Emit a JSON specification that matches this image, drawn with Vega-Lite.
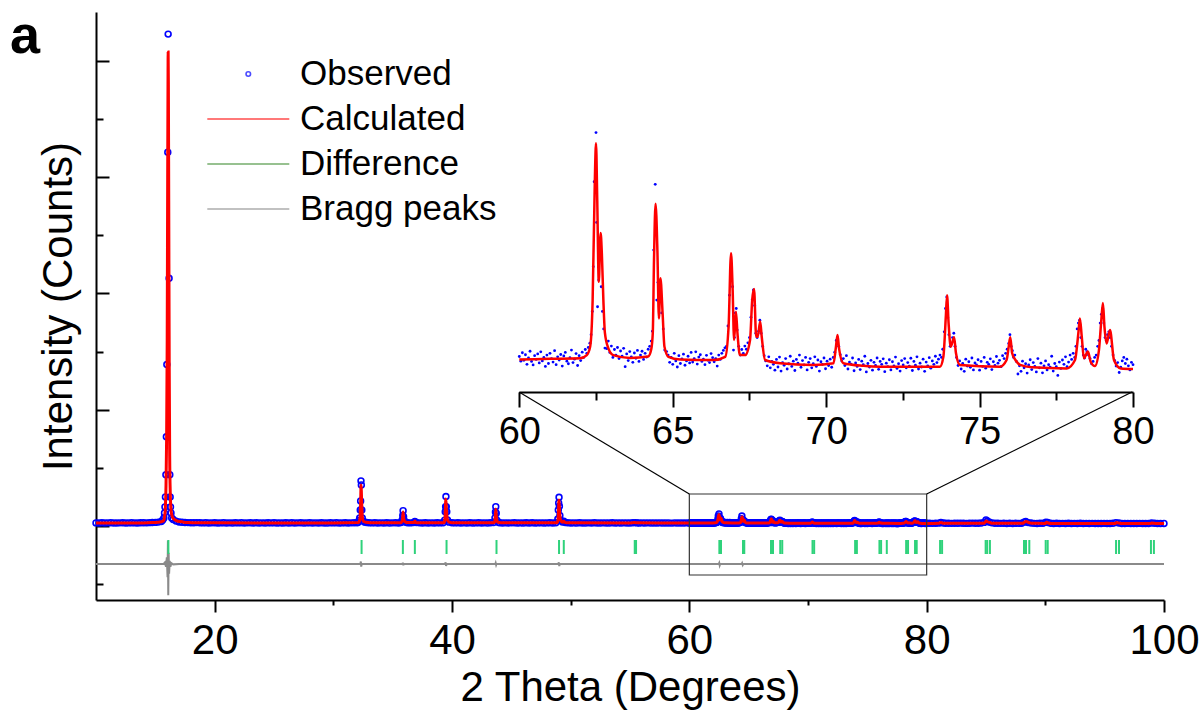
{
"$schema": "https://vega.github.io/schema/vega-lite/v6.json",
"width": 1068,
"height": 588,
"autosize": {"type": "none"},
"padding": {"left": 96, "top": 12, "right": 37, "bottom": 111},
"background": "white",
"config": {
  "view": {"stroke": null},
  "font": "Liberation Sans",
  "axis": {"domainColor": "#000", "tickColor": "#000", "domainWidth": 2, "tickWidth": 2, "labelFont": "Liberation Sans", "titleFont": "Liberation Sans", "labelColor": "#000", "titleColor": "#000", "grid": false, "titleFontWeight": "normal"}
},
"title": {"text": "a", "anchor": "start", "frame": "group", "fontSize": 54, "fontWeight": "bold", "font": "Liberation Sans", "color": "#000", "offset": 0, "dx": -86, "dy": 95, "baseline": "alphabetic"},
"datasets": {
  "obs": [
    {"x":10,"y":268},{"x":10.25,"y":262},{"x":10.5,"y":275},{"x":10.75,"y":259},{"x":11,"y":271},{"x":11.25,"y":280},{"x":11.5,"y":264},{"x":11.75,"y":257},{"x":12,"y":270},{"x":12.25,"y":276},{"x":12.5,"y":261},{"x":12.75,"y":268},{"x":13,"y":283},{"x":13.25,"y":266},{"x":13.5,"y":259},{"x":13.75,"y":274},{"x":14,"y":281},{"x":14.25,"y":270},{"x":14.5,"y":288},{"x":14.75,"y":296},{"x":15,"y":310},{"x":15.25,"y":335},{"x":15.5,"y":392},{"x":15.62,"y":520},
    {"x":15.72,"y":690},{"x":15.77,"y":1120},{"x":15.81,"y":1640},{"x":15.85,"y":2500},{"x":15.89,"y":4400},{"x":15.93,"y":7670},{"x":15.97,"y":13880},{"x":16.05,"y":32150},{"x":16.08,"y":42300},{"x":16.16,"y":21300},{"x":16.22,"y":4400},{"x":16.25,"y":2500},{"x":16.28,"y":1640},{"x":16.32,"y":1120},{"x":16.38,"y":690},{"x":16.5,"y":560},{"x":16.75,"y":420},{"x":17,"y":350},{"x":17.25,"y":318},{"x":17.5,"y":300},{"x":17.75,"y":292},
    {"x":18,"y":285},{"x":18.25,"y":279},{"x":18.5,"y":290},{"x":18.75,"y":272},{"x":19,"y":266},{"x":19.25,"y":281},{"x":19.5,"y":263},{"x":19.75,"y":270},{"x":20,"y":277},{"x":20.25,"y":259},{"x":20.5,"y":268},{"x":20.75,"y":284},{"x":21,"y":262},{"x":21.25,"y":271},{"x":21.5,"y":256},{"x":21.75,"y":275},{"x":22,"y":267},{"x":22.25,"y":281},{"x":22.5,"y":260},{"x":22.75,"y":269},{"x":23,"y":274},{"x":23.25,"y":258},{"x":23.5,"y":279},{"x":23.75,"y":263},{"x":24,"y":270},{"x":24.25,"y":255},{"x":24.5,"y":276},{"x":24.75,"y":266},{"x":25,"y":282},{"x":25.25,"y":261},{"x":25.5,"y":268},{"x":25.75,"y":257},{"x":26,"y":273},{"x":26.25,"y":265},{"x":26.5,"y":280},{"x":26.75,"y":259},{"x":27,"y":270},{"x":27.25,"y":276},{"x":27.5,"y":254},{"x":27.75,"y":267},{"x":28,"y":279},{"x":28.25,"y":262},{"x":28.5,"y":271},{"x":28.75,"y":258},{"x":29,"y":275},{"x":29.25,"y":264},{"x":29.5,"y":253},{"x":29.75,"y":272},{"x":30,"y":266},{"x":30.25,"y":280},{"x":30.5,"y":259},{"x":30.75,"y":268},{"x":31,"y":274},{"x":31.25,"y":257},{"x":31.5,"y":270},{"x":31.75,"y":282},{"x":32,"y":276},
    {"x":32.1,"y":320},{"x":32.17,"y":480},{"x":32.22,"y":690},{"x":32.27,"y":1380},{"x":32.3,"y":2160},{"x":32.33,"y":3880},{"x":32.36,"y":3530},{"x":32.4,"y":1380},{"x":32.44,"y":690},{"x":32.52,"y":420},{"x":32.65,"y":330},{"x":32.8,"y":300},
    {"x":33,"y":281},{"x":33.25,"y":266},{"x":33.5,"y":274},{"x":33.75,"y":259},{"x":34,"y":270},{"x":34.25,"y":263},{"x":34.5,"y":278},{"x":34.75,"y":255},{"x":35,"y":269},{"x":35.25,"y":276},{"x":35.5,"y":262},{"x":35.7,"y":300},{"x":35.8,"y":520},{"x":35.85,"y":900},{"x":35.88,"y":1320},{"x":35.92,"y":800},{"x":35.98,"y":450},{"x":36.1,"y":320},{"x":36.25,"y":281},{"x":36.5,"y":267},{"x":36.75,"y":290},{"x":36.87,"y":400},{"x":37,"y":300},{"x":37.25,"y":271},{"x":37.5,"y":260},{"x":37.75,"y":276},{"x":38,"y":264},{"x":38.25,"y":270},{"x":38.5,"y":257},{"x":38.75,"y":279},{"x":39,"y":266},{"x":39.25,"y":283},
    {"x":39.38,"y":500},{"x":39.43,"y":1230},{"x":39.46,"y":1660},{"x":39.49,"y":2530},{"x":39.52,"y":1660},{"x":39.56,"y":1230},{"x":39.62,"y":520},{"x":39.75,"y":330},
    {"x":40,"y":284},{"x":40.25,"y":266},{"x":40.5,"y":273},{"x":40.75,"y":258},{"x":41,"y":270},{"x":41.25,"y":262},{"x":41.5,"y":277},{"x":41.75,"y":256},{"x":42,"y":268},{"x":42.25,"y":274},{"x":42.5,"y":261},{"x":42.75,"y":270},{"x":43,"y":255},{"x":43.25,"y":275},{"x":43.5,"y":290},{"x":43.62,"y":700},{"x":43.66,"y":1200},{"x":43.69,"y":1660},{"x":43.73,"y":1100},{"x":43.78,"y":500},{"x":43.9,"y":320},
    {"x":44,"y":278},{"x":44.25,"y":263},{"x":44.5,"y":271},{"x":44.75,"y":257},{"x":45,"y":269},{"x":45.25,"y":276},{"x":45.5,"y":260},{"x":45.75,"y":267},{"x":46,"y":254},{"x":46.25,"y":273},{"x":46.5,"y":262},{"x":46.75,"y":279},{"x":47,"y":258},{"x":47.25,"y":266},{"x":47.5,"y":271},{"x":47.75,"y":255},{"x":48,"y":268},{"x":48.25,"y":274},{"x":48.5,"y":259},{"x":48.75,"y":280},
    {"x":48.92,"y":600},{"x":48.96,"y":1380},{"x":48.99,"y":1980},{"x":49.02,"y":2470},{"x":49.05,"y":1700},{"x":49.09,"y":900},{"x":49.15,"y":500},{"x":49.3,"y":340},{"x":49.42,"y":410},{"x":49.55,"y":300},{"x":49.75,"y":272},
    {"x":50,"y":260},{"x":50.25,"y":268},{"x":50.5,"y":255},{"x":50.75,"y":272},{"x":51,"y":263},{"x":51.25,"y":250},{"x":51.5,"y":269},{"x":51.75,"y":258},{"x":52,"y":274},{"x":52.25,"y":261},{"x":52.5,"y":252},{"x":52.75,"y":270},{"x":53,"y":264},{"x":53.25,"y":256},{"x":53.5,"y":273},{"x":53.75,"y":259},{"x":54,"y":266},{"x":54.25,"y":251},{"x":54.5,"y":270},{"x":54.75,"y":262},{"x":55,"y":257},{"x":55.25,"y":275},{"x":55.45,"y":290},{"x":55.6,"y":268},{"x":55.75,"y":254},{"x":56,"y":266},{"x":56.25,"y":259},{"x":56.5,"y":271},{"x":56.75,"y":250},{"x":57,"y":263},{"x":57.25,"y":257},{"x":57.5,"y":268},{"x":57.75,"y":252},{"x":58,"y":265},{"x":58.25,"y":260},{"x":58.5,"y":249},{"x":58.75,"y":268},{"x":59,"y":256},{"x":59.25,"y":262},{"x":59.5,"y":251},{"x":59.75,"y":266},
    {"x":60,"y":265},{"x":60.05,"y":249},{"x":60.1,"y":278},{"x":60.15,"y":252},{"x":60.2,"y":271},{"x":60.25,"y":238},{"x":60.3,"y":260},{"x":60.35,"y":283},{"x":60.4,"y":248},{"x":60.45,"y":236},{"x":60.5,"y":268},{"x":60.55,"y":255},{"x":60.6,"y":274},{"x":60.65,"y":243},{"x":60.7,"y":281},{"x":60.75,"y":250},{"x":60.8,"y":262},{"x":60.85,"y":231},{"x":60.9,"y":270},{"x":60.95,"y":241},
    {"x":61,"y":276},{"x":61.05,"y":258},{"x":61.1,"y":246},{"x":61.15,"y":285},{"x":61.2,"y":237},{"x":61.25,"y":264},{"x":61.3,"y":253},{"x":61.35,"y":272},{"x":61.4,"y":232},{"x":61.45,"y":267},{"x":61.5,"y":279},{"x":61.55,"y":249},{"x":61.6,"y":240},{"x":61.65,"y":261},{"x":61.7,"y":287},{"x":61.75,"y":244},{"x":61.8,"y":256},{"x":61.85,"y":275},{"x":61.9,"y":234},{"x":61.95,"y":268},
    {"x":62,"y":251},{"x":62.05,"y":280},{"x":62.1,"y":262},{"x":62.15,"y":289},{"x":62.2,"y":276},{"x":62.25,"y":296},{"x":62.3,"y":311},{"x":62.34,"y":340},{"x":62.38,"y":420},{"x":62.41,"y":574},{"x":62.44,"y":866},{"x":62.5,"y":1035},{"x":62.52,"y":726},{"x":62.55,"y":436},{"x":62.59,"y":528},{"x":62.63,"y":655},{"x":62.67,"y":505},{"x":62.71,"y":420},{"x":62.75,"y":360},{"x":62.79,"y":294},{"x":62.85,"y":292},{"x":62.9,"y":318},{"x":62.95,"y":279},
    {"x":63,"y":301},{"x":63.05,"y":262},{"x":63.1,"y":289},{"x":63.15,"y":270},{"x":63.2,"y":296},{"x":63.25,"y":258},{"x":63.3,"y":284},{"x":63.35,"y":266},{"x":63.4,"y":293},{"x":63.45,"y":230},{"x":63.5,"y":274},{"x":63.55,"y":251},{"x":63.6,"y":282},{"x":63.65,"y":264},{"x":63.7,"y":245},{"x":63.75,"y":277},{"x":63.8,"y":259},{"x":63.85,"y":286},{"x":63.9,"y":248},{"x":63.95,"y":270},
    {"x":64,"y":283},{"x":64.05,"y":255},{"x":64.1,"y":276},{"x":64.15,"y":263},{"x":64.2,"y":290},{"x":64.25,"y":300},{"x":64.3,"y":318},{"x":64.34,"y":352},{"x":64.38,"y":631},{"x":64.43,"y":857},{"x":64.48,"y":459},{"x":64.52,"y":520},{"x":64.57,"y":471},{"x":64.64,"y":415},{"x":64.69,"y":360},{"x":64.74,"y":287},{"x":64.8,"y":282},{"x":64.85,"y":270},{"x":64.9,"y":245},{"x":64.95,"y":262},
    {"x":65,"y":238},{"x":65.05,"y":276},{"x":65.1,"y":250},{"x":65.15,"y":229},{"x":65.2,"y":268},{"x":65.25,"y":241},{"x":65.3,"y":257},{"x":65.35,"y":273},{"x":65.4,"y":235},{"x":65.45,"y":250},{"x":65.5,"y":266},{"x":65.55,"y":243},{"x":65.6,"y":279},{"x":65.65,"y":246},{"x":65.7,"y":258},{"x":65.75,"y":281},{"x":65.8,"y":239},{"x":65.85,"y":263},{"x":65.9,"y":271},{"x":65.95,"y":248},
    {"x":66,"y":256},{"x":66.05,"y":237},{"x":66.1,"y":269},{"x":66.15,"y":252},{"x":66.2,"y":244},{"x":66.25,"y":275},{"x":66.3,"y":261},{"x":66.35,"y":247},{"x":66.4,"y":258},{"x":66.45,"y":232},{"x":66.5,"y":270},{"x":66.55,"y":255},{"x":66.6,"y":276},{"x":66.65,"y":286},{"x":66.7,"y":295},{"x":66.75,"y":300},{"x":66.8,"y":370},{"x":66.85,"y":476},{"x":66.88,"y":560},{"x":66.91,"y":580},{"x":66.95,"y":505},{"x":66.98,"y":287},
    {"x":67.01,"y":330},{"x":67.04,"y":415},{"x":67.07,"y":430},{"x":67.1,"y":356},{"x":67.15,"y":300},{"x":67.2,"y":270},{"x":67.25,"y":289},{"x":67.3,"y":276},{"x":67.35,"y":301},{"x":67.4,"y":290},{"x":67.45,"y":312},{"x":67.5,"y":330},{"x":67.55,"y":400},{"x":67.59,"y":460},{"x":67.63,"y":494},{"x":67.67,"y":440},{"x":67.71,"y":345},{"x":67.75,"y":330},{"x":67.8,"y":352},{"x":67.84,"y":390},{"x":67.88,"y":345},{"x":67.93,"y":300},{"x":67.98,"y":268},
    {"x":68.03,"y":250},{"x":68.08,"y":233},{"x":68.13,"y":264},{"x":68.18,"y":226},{"x":68.23,"y":248},{"x":68.28,"y":238},{"x":68.33,"y":218},{"x":68.38,"y":255},{"x":68.43,"y":229},{"x":68.48,"y":263},{"x":68.53,"y":215},{"x":68.58,"y":244},{"x":68.63,"y":235},{"x":68.68,"y":258},{"x":68.73,"y":222},{"x":68.78,"y":240},{"x":68.83,"y":266},{"x":68.88,"y":231},{"x":68.93,"y":249},{"x":68.98,"y":217},
    {"x":69.03,"y":255},{"x":69.08,"y":242},{"x":69.13,"y":270},{"x":69.18,"y":228},{"x":69.23,"y":251},{"x":69.28,"y":236},{"x":69.33,"y":262},{"x":69.38,"y":219},{"x":69.43,"y":245},{"x":69.48,"y":258},{"x":69.53,"y":226},{"x":69.58,"y":240},{"x":69.63,"y":264},{"x":69.68,"y":231},{"x":69.73,"y":253},{"x":69.78,"y":215},{"x":69.83,"y":247},{"x":69.88,"y":238},{"x":69.93,"y":260},{"x":69.98,"y":223},
    {"x":70.03,"y":249},{"x":70.08,"y":234},{"x":70.13,"y":256},{"x":70.18,"y":228},{"x":70.23,"y":262},{"x":70.28,"y":280},{"x":70.33,"y":320},{"x":70.37,"y":330},{"x":70.41,"y":300},{"x":70.46,"y":271},{"x":70.51,"y":250},{"x":70.56,"y":258},{"x":70.61,"y":234},{"x":70.66,"y":268},{"x":70.71,"y":222},{"x":70.76,"y":246},{"x":70.81,"y":239},{"x":70.86,"y":260},{"x":70.91,"y":216},{"x":70.96,"y":243},
    {"x":71.01,"y":231},{"x":71.06,"y":255},{"x":71.11,"y":220},{"x":71.16,"y":249},{"x":71.21,"y":237},{"x":71.26,"y":266},{"x":71.31,"y":212},{"x":71.36,"y":241},{"x":71.41,"y":229},{"x":71.46,"y":252},{"x":71.51,"y":218},{"x":71.56,"y":245},{"x":71.61,"y":234},{"x":71.66,"y":260},{"x":71.71,"y":221},{"x":71.76,"y":248},{"x":71.81,"y":238},{"x":71.86,"y":257},{"x":71.91,"y":213},{"x":71.96,"y":242},
    {"x":72.01,"y":230},{"x":72.06,"y":254},{"x":72.11,"y":219},{"x":72.16,"y":247},{"x":72.21,"y":233},{"x":72.26,"y":263},{"x":72.31,"y":224},{"x":72.36,"y":240},{"x":72.41,"y":215},{"x":72.46,"y":251},{"x":72.51,"y":236},{"x":72.56,"y":258},{"x":72.61,"y":226},{"x":72.66,"y":244},{"x":72.71,"y":232},{"x":72.76,"y":259},{"x":72.81,"y":217},{"x":72.86,"y":248},{"x":72.91,"y":235},{"x":72.96,"y":264},
    {"x":73.01,"y":222},{"x":73.06,"y":242},{"x":73.11,"y":229},{"x":73.16,"y":256},{"x":73.21,"y":214},{"x":73.26,"y":246},{"x":73.31,"y":233},{"x":73.36,"y":261},{"x":73.41,"y":225},{"x":73.46,"y":250},{"x":73.51,"y":238},{"x":73.56,"y":266},{"x":73.61,"y":244},{"x":73.66,"y":256},{"x":73.71,"y":270},{"x":73.76,"y":262},{"x":73.8,"y":290},{"x":73.85,"y":350},{"x":73.89,"y":430},{"x":73.93,"y":470},{"x":73.96,"y":400},
    {"x":74,"y":340},{"x":74.04,"y":300},{"x":74.08,"y":310},{"x":74.12,"y":330},{"x":74.16,"y":345},{"x":74.2,"y":300},{"x":74.25,"y":262},{"x":74.3,"y":234},{"x":74.35,"y":250},{"x":74.4,"y":222},{"x":74.45,"y":241},{"x":74.5,"y":214},{"x":74.55,"y":256},{"x":74.6,"y":232},{"x":74.65,"y":247},{"x":74.7,"y":228},{"x":74.75,"y":260},{"x":74.8,"y":219},{"x":74.85,"y":243},{"x":74.9,"y":236},{"x":74.95,"y":254},
    {"x":75,"y":218},{"x":75.05,"y":248},{"x":75.1,"y":231},{"x":75.15,"y":262},{"x":75.2,"y":225},{"x":75.25,"y":245},{"x":75.3,"y":238},{"x":75.35,"y":257},{"x":75.4,"y":220},{"x":75.45,"y":247},{"x":75.5,"y":234},{"x":75.55,"y":265},{"x":75.6,"y":242},{"x":75.65,"y":252},{"x":75.7,"y":230},{"x":75.75,"y":268},{"x":75.8,"y":258},{"x":75.85,"y":276},{"x":75.9,"y":290},{"x":75.95,"y":310},{"x":75.99,"y":340},
    {"x":76.03,"y":300},{"x":76.07,"y":285},{"x":76.11,"y":262},{"x":76.15,"y":270},{"x":76.2,"y":248},{"x":76.25,"y":205},{"x":76.3,"y":233},{"x":76.35,"y":214},{"x":76.4,"y":249},{"x":76.45,"y":226},{"x":76.5,"y":240},{"x":76.55,"y":208},{"x":76.6,"y":236},{"x":76.65,"y":254},{"x":76.7,"y":220},{"x":76.75,"y":244},{"x":76.8,"y":231},{"x":76.85,"y":212},{"x":76.9,"y":258},{"x":76.95,"y":226},
    {"x":77,"y":242},{"x":77.05,"y":209},{"x":77.1,"y":233},{"x":77.15,"y":250},{"x":77.2,"y":219},{"x":77.25,"y":237},{"x":77.3,"y":228},{"x":77.35,"y":266},{"x":77.4,"y":215},{"x":77.45,"y":241},{"x":77.5,"y":230},{"x":77.55,"y":200},{"x":77.6,"y":246},{"x":77.65,"y":224},{"x":77.7,"y":253},{"x":77.75,"y":238},{"x":77.8,"y":264},{"x":77.85,"y":230},{"x":77.9,"y":246},{"x":77.95,"y":270},
    {"x":78,"y":255},{"x":78.05,"y":276},{"x":78.1,"y":262},{"x":78.14,"y":300},{"x":78.18,"y":360},{"x":78.22,"y":380},{"x":78.26,"y":390},{"x":78.3,"y":330},{"x":78.34,"y":300},{"x":78.38,"y":270},{"x":78.42,"y":260},{"x":78.46,"y":290},{"x":78.5,"y":282},{"x":78.55,"y":270},{"x":78.6,"y":258},{"x":78.65,"y":240},{"x":78.7,"y":248},{"x":78.75,"y":262},{"x":78.8,"y":270},{"x":78.85,"y":300},{"x":78.89,"y":320},{"x":78.93,"y":380},{"x":78.97,"y":410},
    {"x":79.01,"y":430},{"x":79.05,"y":380},{"x":79.09,"y":330},{"x":79.13,"y":320},{"x":79.17,"y":340},{"x":79.21,"y":350},{"x":79.25,"y":330},{"x":79.3,"y":300},{"x":79.35,"y":270},{"x":79.4,"y":252},{"x":79.45,"y":232},{"x":79.5,"y":244},{"x":79.55,"y":210},{"x":79.6,"y":228},{"x":79.65,"y":250},{"x":79.7,"y":262},{"x":79.75,"y":241},{"x":79.8,"y":256},{"x":79.85,"y":233},{"x":79.9,"y":219},{"x":79.95,"y":245},{"x":80,"y":237},
    {"x":80.25,"y":240},{"x":80.5,"y":228},{"x":80.75,"y":236},{"x":81,"y":246},{"x":81.2,"y":300},{"x":81.4,"y":260},{"x":81.6,"y":232},{"x":81.85,"y":241},{"x":82.1,"y":226},{"x":82.35,"y":238},{"x":82.6,"y":229},{"x":82.85,"y":244},{"x":83.1,"y":231},{"x":83.35,"y":225},{"x":83.6,"y":238},{"x":83.85,"y":247},{"x":84.1,"y":233},{"x":84.35,"y":241},{"x":84.6,"y":252},{"x":84.85,"y":310},{"x":85,"y":520},{"x":85.12,"y":430},{"x":85.3,"y":330},{"x":85.5,"y":270},{"x":85.75,"y":240},
    {"x":86,"y":232},{"x":86.25,"y":226},{"x":86.5,"y":238},{"x":86.75,"y":222},{"x":87,"y":230},{"x":87.25,"y":219},{"x":87.5,"y":233},{"x":87.75,"y":224},{"x":88,"y":240},{"x":88.2,"y":330},{"x":88.35,"y":380},{"x":88.55,"y":290},{"x":88.8,"y":250},{"x":89.05,"y":226},{"x":89.3,"y":218},{"x":89.55,"y":231},{"x":89.8,"y":240},{"x":90.05,"y":320},{"x":90.2,"y":300},{"x":90.45,"y":236},{"x":90.7,"y":222},{"x":90.95,"y":229},
    {"x":91.2,"y":215},{"x":91.45,"y":226},{"x":91.7,"y":219},{"x":91.95,"y":231},{"x":92.2,"y":212},{"x":92.45,"y":224},{"x":92.7,"y":217},{"x":92.95,"y":229},{"x":93.2,"y":210},{"x":93.45,"y":223},{"x":93.7,"y":216},{"x":93.95,"y":228},{"x":94.2,"y":211},{"x":94.45,"y":222},{"x":94.7,"y":214},{"x":94.95,"y":226},{"x":95.2,"y":209},{"x":95.45,"y":220},{"x":95.7,"y":232},{"x":95.95,"y":290},{"x":96.2,"y":260},{"x":96.45,"y":221},{"x":96.7,"y":212},{"x":96.95,"y":223},{"x":97.2,"y":207},{"x":97.45,"y":219},{"x":97.7,"y":211},{"x":97.95,"y":224},{"x":98.2,"y":208},{"x":98.45,"y":218},{"x":98.7,"y":212},{"x":98.95,"y":250},{"x":99.2,"y":236},{"x":99.45,"y":214},{"x":99.7,"y":209},{"x":100,"y":218}
  ],
  "calc": [
    {"x":10,"y":262},{"x":14,"y":268},{"x":14.75,"y":290},{"x":15.2,"y":320},{"x":15.5,"y":360},{"x":15.6,"y":400},{"x":15.7,"y":450},{"x":15.78,"y":800},{"x":15.85,"y":1700},{"x":15.9,"y":3500},{"x":15.95,"y":7500},{"x":16,"y":16000},{"x":16.04,"y":30000},{"x":16.07,"y":39000},{"x":16.08,"y":40760},{"x":16.1,"y":38000},{"x":16.13,"y":28000},{"x":16.17,"y":14000},{"x":16.21,"y":6000},{"x":16.26,"y":2800},{"x":16.32,"y":1400},{"x":16.4,"y":900},{"x":16.55,"y":600},{"x":16.8,"y":450},{"x":17.1,"y":380},{"x":17.4,"y":330},{"x":17.8,"y":300},{"x":18.5,"y":280},{"x":20,"y":270},{"x":25,"y":266},{"x":30,"y":264},
    {"x":32.1,"y":300},{"x":32.2,"y":420},{"x":32.26,"y":800},{"x":32.3,"y":2000},{"x":32.34,"y":3530},{"x":32.37,"y":2700},{"x":32.41,"y":1300},{"x":32.46,"y":650},{"x":32.55,"y":400},{"x":32.75,"y":320},{"x":33.5,"y":275},{"x":35.6,"y":275},{"x":35.75,"y":330},{"x":35.83,"y":600},{"x":35.88,"y":1200},{"x":35.93,"y":650},{"x":36.05,"y":350},{"x":36.3,"y":290},{"x":36.8,"y":290},{"x":36.87,"y":430},{"x":36.95,"y":300},{"x":37.2,"y":275},
    {"x":39.3,"y":280},{"x":39.36,"y":330},{"x":39.42,"y":800},{"x":39.48,"y":2330},{"x":39.53,"y":1400},{"x":39.6,"y":600},{"x":39.75,"y":330},{"x":40,"y":285},{"x":43.5,"y":278},{"x":43.58,"y":320},{"x":43.64,"y":700},{"x":43.69,"y":1470},{"x":43.74,"y":750},{"x":43.85,"y":330},{"x":44.1,"y":280},{"x":48.8,"y":275},{"x":48.9,"y":350},{"x":48.96,"y":900},{"x":49.02,"y":2240},{"x":49.07,"y":1100},{"x":49.15,"y":500},{"x":49.3,"y":330},{"x":49.42,"y":400},{"x":49.55,"y":300},{"x":50,"y":275},{"x":55,"y":266},{"x":55.4,"y":290},{"x":55.55,"y":272},{"x":59.5,"y":258},
    {"x":60,"y":255},{"x":61,"y":257},{"x":61.98,"y":259},{"x":62.2,"y":270},{"x":62.31,"y":299},{"x":62.39,"y":459},{"x":62.46,"y":862},{"x":62.5,"y":998},{"x":62.54,"y":803},{"x":62.59,"y":522},{"x":62.65,"y":690},{"x":62.69,"y":620},{"x":62.74,"y":459},{"x":62.79,"y":346},{"x":62.9,"y":294},{"x":63.06,"y":270},{"x":63.61,"y":260},{"x":64.2,"y":265},{"x":64.3,"y":290},{"x":64.35,"y":346},{"x":64.39,"y":597},{"x":64.44,"y":790},{"x":64.5,"y":631},{"x":64.55,"y":396},{"x":64.6,"y":534},{"x":64.67,"y":414},{"x":64.73,"y":299},{"x":64.86,"y":264},{"x":65.24,"y":255},{"x":66.33,"y":253},{"x":66.71,"y":264},{"x":66.82,"y":367},{"x":66.9,"y":620},{"x":66.95,"y":505},{"x":67,"y":322},{"x":67.06,"y":419},{"x":67.11,"y":345},{"x":67.19,"y":270},{"x":67.36,"y":270},{"x":67.52,"y":322},{"x":67.59,"y":459},{"x":67.65,"y":497},{"x":67.72,"y":333},{"x":67.77,"y":333},{"x":67.85,"y":385},{"x":67.9,"y":333},{"x":68.01,"y":253},{"x":68.5,"y":242},{"x":69.58,"y":236},{"x":70.24,"y":242},{"x":70.32,"y":299},{"x":70.37,"y":339},{"x":70.42,"y":293},{"x":70.56,"y":242},{"x":71.22,"y":233},{"x":71.76,"y":230},{"x":73.71,"y":230},{"x":73.82,"y":264},{"x":73.9,"y":402},{"x":73.94,"y":476},{"x":73.99,"y":380},{"x":74.06,"y":299},{"x":74.17,"y":331},{"x":74.23,"y":277},{"x":74.36,"y":236},{"x":75.66,"y":230},{"x":75.88,"y":253},{"x":75.95,"y":299},{"x":76,"y":331},{"x":76.06,"y":277},{"x":76.17,"y":253},{"x":76.32,"y":236},{"x":76.7,"y":228},{"x":77.84,"y":224},{"x":78.11,"y":253},{"x":78.22,"y":346},{"x":78.27,"y":396},{"x":78.33,"y":333},{"x":78.4,"y":259},{"x":78.53,"y":282},{"x":78.62,"y":247},{"x":78.76,"y":232},{"x":78.89,"y":287},{"x":78.96,"y":380},{"x":79.02,"y":449},{"x":79.07,"y":367},{"x":79.14,"y":310},{"x":79.25,"y":356},{"x":79.38,"y":253},{"x":79.6,"y":224},{"x":80,"y":222},
    {"x":80.5,"y":222},{"x":81,"y":226},{"x":81.2,"y":300},{"x":81.4,"y":235},{"x":84.8,"y":226},{"x":84.95,"y":350},{"x":85.02,"y":430},{"x":85.12,"y":360},{"x":85.33,"y":300},{"x":85.5,"y":240},{"x":88.1,"y":226},{"x":88.2,"y":300},{"x":88.37,"y":380},{"x":88.65,"y":280},{"x":88.9,"y":228},{"x":90,"y":225},{"x":90.1,"y":320},{"x":90.25,"y":260},{"x":90.5,"y":222},{"x":95.9,"y":218},{"x":96,"y":290},{"x":96.2,"y":260},{"x":96.4,"y":220},{"x":98.85,"y":215},{"x":98.95,"y":250},{"x":99.2,"y":230},{"x":99.4,"y":215},{"x":100,"y":213}
  ],
  "diff": [
    {"x":10,"y":-3268},{"x":15.7,"y":-3268},{"x":15.8,"y":-3150},{"x":15.9,"y":-3500},{"x":15.97,"y":-2700},{"x":16.03,"y":-4400},{"x":16.06,"y":-1250},{"x":16.09,"y":-5950},{"x":16.12,"y":-2300},{"x":16.16,"y":-4100},{"x":16.21,"y":-3000},{"x":16.27,"y":-3500},{"x":16.35,"y":-3200},{"x":16.5,"y":-3300},{"x":17,"y":-3268},
    {"x":32.28,"y":-3268},{"x":32.32,"y":-3050},{"x":32.35,"y":-3500},{"x":32.39,"y":-3268},{"x":35.84,"y":-3268},{"x":35.86,"y":-3150},{"x":35.9,"y":-3380},{"x":35.93,"y":-3268},{"x":39.43,"y":-3268},{"x":39.46,"y":-3120},{"x":39.5,"y":-3430},{"x":39.55,"y":-3268},{"x":43.65,"y":-3268},{"x":43.68,"y":-3180},{"x":43.72,"y":-3350},{"x":43.75,"y":-3268},{"x":48.97,"y":-3268},{"x":49,"y":-3120},{"x":49.04,"y":-3450},{"x":49.08,"y":-3268},{"x":62.48,"y":-3268},{"x":62.52,"y":-3180},{"x":62.56,"y":-3380},{"x":62.6,"y":-3268},{"x":64.42,"y":-3268},{"x":64.45,"y":-3200},{"x":64.5,"y":-3350},{"x":64.54,"y":-3268},{"x":100,"y":-3268}
  ],
  "bragg": [
    {"x":16.1},{"x":32.38},{"x":35.86},{"x":36.87},{"x":39.54},{"x":43.75},{"x":49.02},{"x":49.42},{"x":55.4},{"x":55.51},{"x":62.53},{"x":62.67},{"x":64.52},{"x":64.63},{"x":66.88},{"x":67.05},{"x":67.66},{"x":67.83},{"x":70.38},{"x":70.52},{"x":73.97},{"x":74.12},{"x":76.02},{"x":76.16},{"x":76.64},{"x":78.27},{"x":78.43},{"x":79.02},{"x":79.16},{"x":81.13},{"x":81.3},{"x":84.97},{"x":85.1},{"x":85.33},{"x":88.2},{"x":88.37},{"x":88.65},{"x":90.03},{"x":90.2},{"x":95.96},{"x":96.21},{"x":98.9},{"x":99.15}
  ]
},
"layer": [
  {
    "layer": [
      {
        "data": {"name": "obs"},
        "mark": {"type": "point", "filled": false, "color": "#0000ff", "size": 34, "strokeWidth": 1.6, "opacity": 1},
        "encoding": {
          "x": {"field": "x", "type": "quantitative", "scale": {"domain": [10, 100], "nice": false, "zero": false},
                "axis": {"orient": "bottom", "values": [20, 40, 60, 80, 100], "tickSize": 12, "labelFontSize": 42, "labelPadding": 8, "labelFlush": false, "title": "2 Theta (Degrees)", "titleFontSize": 42, "titlePadding": 6}},
          "y": {"field": "y", "type": "quantitative", "scale": {"domain": [-6364, 44200], "nice": false, "zero": false},
                "axis": {"orient": "left", "values": [0, 10000, 20000, 30000, 40000], "tickSize": -13, "labels": false, "title": "Intensity (Counts)", "titleFontSize": 42, "titlePadding": 15}}
        }
      },
      {
        "data": {"name": "calc"},
        "mark": {"type": "line", "color": "#ff0000", "strokeWidth": 3, "interpolate": "monotone"},
        "encoding": {
          "x": {"field": "x", "type": "quantitative", "scale": {"domain": [10, 100], "nice": false, "zero": false},
                "axis": {"orient": "bottom", "values": [30, 50, 70, 90], "tickSize": 5, "labels": false, "domain": false, "title": null}},
          "y": {"field": "y", "type": "quantitative", "scale": {"domain": [-6364, 44200], "nice": false, "zero": false},
                "axis": {"orient": "left", "values": [-5000, 5000, 15000, 25000, 35000], "tickSize": -7, "labels": false, "domain": false, "title": null}}
        }
      },
      {
        "data": {"name": "diff"},
        "mark": {"type": "line", "color": "#8a8a8a", "strokeWidth": 2},
        "encoding": {
          "x": {"field": "x", "type": "quantitative", "axis": null},
          "y": {"field": "y", "type": "quantitative", "axis": null}
        }
      },
      {
        "data": {"name": "bragg"},
        "mark": {"type": "rule", "color": "#2fd27b", "strokeWidth": 2},
        "encoding": {
          "x": {"field": "x", "type": "quantitative", "axis": null},
          "y": {"datum": -1204, "type": "quantitative", "axis": null},
          "y2": {"datum": -2408}
        }
      },
      {
        "data": {"values": [{}]},
        "mark": {"type": "rect", "fill": "transparent", "stroke": "#333333", "strokeWidth": 1.2},
        "encoding": {
          "x": {"datum": 60, "type": "quantitative", "axis": null},
          "x2": {"datum": 80},
          "y": {"datum": 2752, "type": "quantitative", "axis": null},
          "y2": {"datum": -4214}
        }
      },
      {
        "data": {"values": [{}]},
        "mark": {"type": "rule", "color": "#000000", "strokeWidth": 1.2},
        "encoding": {
          "x": {"datum": 60, "type": "quantitative", "axis": null},
          "x2": {"datum": 45.65},
          "y": {"datum": 2752, "type": "quantitative", "axis": null},
          "y2": {"datum": 11524}
        }
      },
      {
        "data": {"values": [{}]},
        "mark": {"type": "rule", "color": "#000000", "strokeWidth": 1.2},
        "encoding": {
          "x": {"datum": 80, "type": "quantitative", "axis": null},
          "x2": {"datum": 97.31},
          "y": {"datum": 2752, "type": "quantitative", "axis": null},
          "y2": {"datum": 11524}
        }
      },
      {
        "data": {"values": [{"s": "Observed"}, {"s": "Calculated"}, {"s": "Difference"}, {"s": "Bragg peaks"}]},
        "transform": [{"filter": "datum.s === 'none'"}],
        "mark": {"type": "point", "filled": false, "strokeWidth": 1.6},
        "encoding": {
          "color": {"field": "s", "type": "nominal",
            "scale": {"domain": ["Observed", "Calculated", "Difference", "Bragg peaks"], "range": ["#0000ff", "#ff0000", "#3b8a2e", "#8a8a8a"]},
            "legend": {"title": null, "orient": "none", "legendX": 110.3, "legendY": 44.5, "direction": "vertical", "padding": 0,
              "symbolSize": 6724, "symbolStrokeWidth": 1.6, "clipHeight": 35, "rowPadding": 9, "labelOffset": 9.7,
              "labelFontSize": 35, "labelFont": "Liberation Sans", "labelColor": "#000000", "labelLimit": 400,
              "encode": {"symbols": {"update": {"fill": {"value": "transparent"}}}}}},
          "shape": {"field": "s", "type": "nominal",
            "scale": {"domain": ["Observed", "Calculated", "Difference", "Bragg peaks"], "range": ["M0.055,0A0.055,0.055 0 1,1 -0.055,0A0.055,0.055 0 1,1 0.055,0Z", "stroke", "stroke", "stroke"]}}
        }
      }
    ],
    "resolve": {"axis": {"x": "independent", "y": "independent"}}
  },
  {
    "layer": [
      {
        "data": {"name": "obs"},
        "transform": [{"filter": "datum.x >= 60 && datum.x <= 80"}],
        "mark": {"type": "circle", "color": "#0000ff", "size": 8, "opacity": 1},
        "encoding": {
          "x": {"field": "x", "type": "quantitative", "scale": {"domain": [60, 80], "range": [423.3, 1037], "nice": false, "zero": false},
                "axis": {"orient": "bottom", "offset": -208, "values": [60, 65, 70, 75, 80], "tickSize": 15, "labelFontSize": 38, "labelPadding": 6, "labelFlush": false, "title": null}},
          "y": {"field": "y", "type": "quantitative", "scale": {"domain": [143, 1061], "range": [380, 113], "nice": false, "zero": false}, "axis": null}
        }
      },
      {
        "data": {"name": "calc"},
        "transform": [{"filter": "datum.x >= 60 && datum.x <= 80"}],
        "mark": {"type": "line", "color": "#ff0000", "strokeWidth": 2.5, "interpolate": "monotone"},
        "encoding": {
          "x": {"field": "x", "type": "quantitative", "scale": {"domain": [60, 80], "range": [423.3, 1037], "nice": false, "zero": false},
                "axis": {"orient": "bottom", "offset": -208, "values": [62.5, 67.5, 72.5, 77.5], "tickSize": 8, "labels": false, "domain": false, "title": null}},
          "y": {"field": "y", "type": "quantitative", "scale": {"domain": [143, 1061], "range": [380, 113], "nice": false, "zero": false}, "axis": null}
        }
      }
    ],
    "resolve": {"axis": {"x": "independent"}}
  }
],
"resolve": {"scale": {"x": "independent", "y": "independent"}, "axis": {"x": "independent", "y": "independent"}}
}
